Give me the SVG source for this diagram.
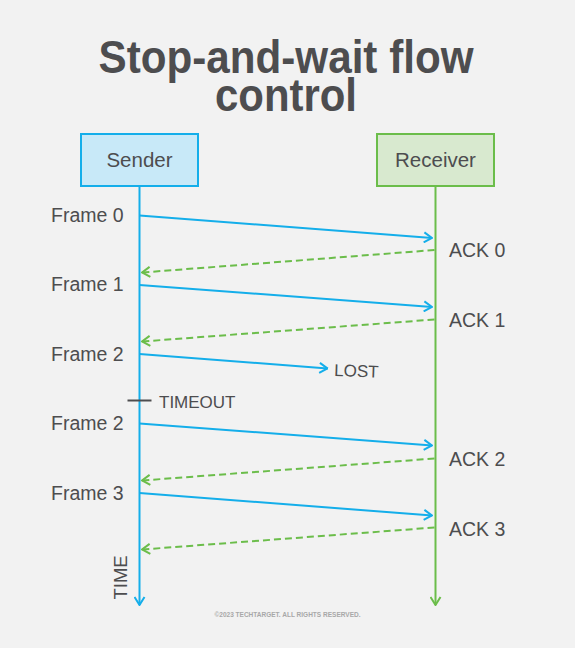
<svg xmlns="http://www.w3.org/2000/svg" width="575" height="648" viewBox="0 0 575 648">
<style>
.t{font-family:"Liberation Sans",Arial,sans-serif;fill:#4d4d4f}
.lbl{font-size:19.5px}
.b{stroke:#14aeea;stroke-width:2;fill:none}
.g{stroke:#6bbd4a;stroke-width:2;fill:none}
.gd{stroke:#6bbd4a;stroke-width:2;fill:none;stroke-dasharray:7 4}
</style>
<defs>
<marker id="ab" viewBox="0 0 10 12" refX="9" refY="6" markerWidth="10" markerHeight="12" markerUnits="userSpaceOnUse" orient="auto">
<path d="M1,1 L9,6 L1,11" fill="none" stroke="#14aeea" stroke-width="2"/>
</marker>
<marker id="ag" viewBox="0 0 10 12" refX="9" refY="6" markerWidth="10" markerHeight="12" markerUnits="userSpaceOnUse" orient="auto">
<path d="M1,1 L9,6 L1,11" fill="none" stroke="#6bbd4a" stroke-width="2"/>
</marker>
</defs>
<rect width="575" height="648" fill="#f2f2f2"/>
<g id="title">
<text class="t" x="286" y="73" text-anchor="middle" font-size="46" font-weight="bold" textLength="375" lengthAdjust="spacingAndGlyphs">Stop-and-wait flow</text>
<text class="t" x="286" y="111" text-anchor="middle" font-size="46" font-weight="bold" textLength="142" lengthAdjust="spacingAndGlyphs">control</text>
</g>
<g id="sender">
<rect x="81" y="134" width="117" height="52" fill="#c8e9f8" stroke="#14aeea" stroke-width="2"/>
<text class="t" x="139.5" y="167" text-anchor="middle" font-size="20.5">Sender</text>
</g>
<g id="receiver">
<rect x="377" y="134" width="117" height="52" fill="#d8e9cf" stroke="#6bbd4a" stroke-width="2"/>
<text class="t" x="435.5" y="167" text-anchor="middle" font-size="20.5">Receiver</text>
</g>
<g id="connectors">
<line class="b" x1="139.5" y1="186" x2="139.5" y2="605" marker-end="url(#ab)"/>
<line class="g" x1="435.5" y1="186" x2="435.5" y2="605" marker-end="url(#ag)"/>
<line class="b" x1="139.5" y1="215.5" x2="432" y2="238" marker-end="url(#ab)"/>
<line class="gd" x1="434.5" y1="250" x2="142" y2="272.5" marker-end="url(#ag)"/>
<line class="b" x1="139.5" y1="285" x2="432" y2="307" marker-end="url(#ab)"/>
<line class="gd" x1="434.5" y1="319.5" x2="142" y2="341.5" marker-end="url(#ag)"/>
<line class="b" x1="139.5" y1="354" x2="327.5" y2="368.5" marker-end="url(#ab)"/>
<line stroke="#4d4d4f" stroke-width="2" x1="127.5" y1="400.5" x2="151.5" y2="400.5"/>
<line class="b" x1="139.5" y1="423.5" x2="432" y2="445.5" marker-end="url(#ab)"/>
<line class="gd" x1="434.5" y1="458.5" x2="142" y2="480.5" marker-end="url(#ag)"/>
<line class="b" x1="139.5" y1="493" x2="432" y2="515.5" marker-end="url(#ab)"/>
<line class="gd" x1="434.5" y1="527.5" x2="142" y2="549.5" marker-end="url(#ag)"/>
</g>
<g id="labels">
<text class="t lbl" x="51" y="222">Frame 0</text>
<text class="t lbl" x="51" y="291">Frame 1</text>
<text class="t lbl" x="51" y="361">Frame 2</text>
<text class="t lbl" x="51" y="430">Frame 2</text>
<text class="t lbl" x="51" y="499.5">Frame 3</text>
<text class="t lbl" x="449" y="257">ACK 0</text>
<text class="t lbl" x="449" y="327">ACK 1</text>
<text class="t lbl" x="449" y="466">ACK 2</text>
<text class="t lbl" x="449" y="536">ACK 3</text>
<text class="t" x="334" y="376" font-size="17" transform="rotate(2 334 376)">LOST</text>
<text class="t" x="159" y="407.5" font-size="17">TIMEOUT</text>
<text class="t" x="127" y="599.5" font-size="18.5" transform="rotate(-90 127 599.5)">TIME</text>
<text x="287.5" y="617" text-anchor="middle" font-family="Liberation Sans,Arial,sans-serif" font-size="7" font-weight="bold" fill="#a8a8a8" textLength="146" lengthAdjust="spacingAndGlyphs">©2023 TECHTARGET. ALL RIGHTS RESERVED.</text>
</g>
</svg>
